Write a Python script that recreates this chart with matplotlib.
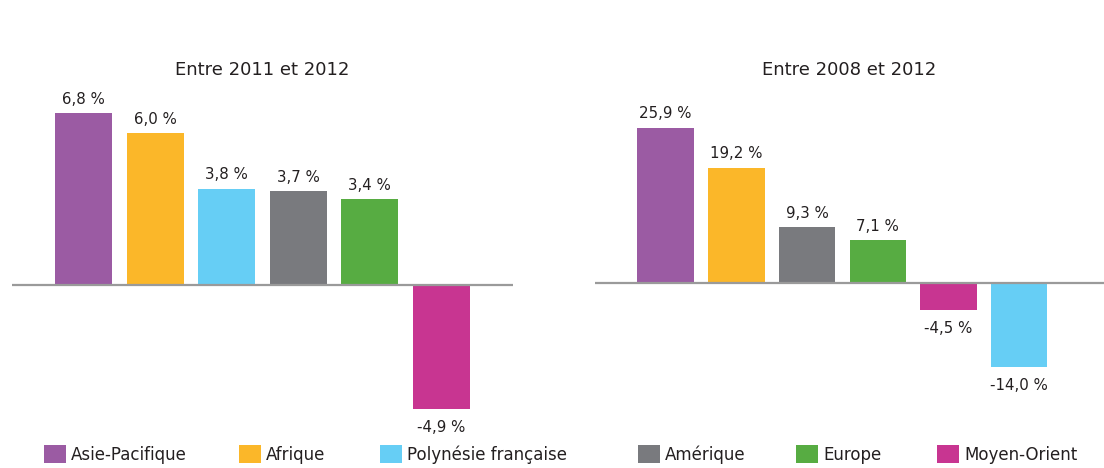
import matplotlib
matplotlib.use("Agg")
import matplotlib.pyplot as plt
from matplotlib.patches import Rectangle

plt.rcParams['font.family'] = ['DejaVu Sans']

# Data
regions_2011 = ["Asie-Pacifique", "Afrique", "Polynésie française", "Amérique", "Europe", "Moyen-Orient"]
values_2011 = [6.8, 6.0, 3.8, 3.7, 3.4, -4.9]
regions_2008 = ["Asie-Pacifique", "Afrique", "Amérique", "Europe", "Moyen-Orient", "Polynésie française"]
values_2008 = [25.9, 19.2, 9.3, 7.1, -4.5, -14.0]
title_left = "Entre 2011 et 2012"
title_right = "Entre 2008 et 2012"
legend_order = ["Asie-Pacifique", "Afrique", "Polynésie française", "Amérique", "Europe", "Moyen-Orient"]

colors = {
    "Asie-Pacifique": "#9B5BA3",
    "Afrique": "#FBB729",
    "Polynésie française": "#66CEF5",
    "Amérique": "#797A7E",
    "Europe": "#57AC42",
    "Moyen-Orient": "#C83591",
}
text_color = "#231F20"

W, H = 1104, 468
fig = plt.figure(figsize=(W / 100, H / 100), dpi=100)

top_px, bot_px = 90, 430

def make_axes(x0, x1, zero_px, scale, xlim):
    ax = fig.add_axes([x0 / W, 1 - bot_px / H, (x1 - x0) / W, (bot_px - top_px) / H])
    ymax = (zero_px - top_px) / scale
    ymin = -(bot_px - zero_px) / scale
    ax.set_ylim(ymin, ymax)
    ax.set_xlim(*xlim)
    ax.axis('off')
    return ax

def fmt(v):
    return ("%.1f" % v).replace(".", ",") + " %"

def draw(ax, cats, vals, title):
    x = list(range(len(cats)))
    ax.bar(x, vals, width=0.8, color=[colors[c] for c in cats], zorder=2)
    ax.axhline(0, color="#9A9A9A", lw=1.6, zorder=3)
    for xi, v in zip(x, vals):
        if v >= 0:
            ax.annotate(fmt(v), (xi, v), xytext=(0, 10), textcoords='offset points',
                        ha='center', va='center', fontsize=10.8, color=text_color)
        else:
            ax.annotate(fmt(v), (xi, v), xytext=(0, -13), textcoords='offset points',
                        ha='center', va='center', fontsize=10.8, color=text_color)
    ax.text(0.5, 1 + 20 / (bot_px - top_px), title, transform=ax.transAxes,
            ha='center', va='center', fontsize=13, color=text_color)

axL = make_axes(12, 513, 285, 25.3, (-1, 6))
axR = make_axes(595, 1104, 283, 6.0, (-1, 6.2))
draw(axL, regions_2011, values_2011, title_left)
draw(axR, regions_2008, values_2008, title_right)

# Manual legend (handle left edges in pixels)
legend_x = [44, 239, 380, 638, 796, 937]
legend_y = 454
hw, hh = 22, 18
for lx, name in zip(legend_x, legend_order):
    fig.add_artist(Rectangle((lx / W, 1 - (legend_y + hh / 2) / H), hw / W, hh / H,
                             transform=fig.transFigure, facecolor=colors[name],
                             edgecolor='none'))
    fig.text((lx + hw + 5) / W, 1 - (legend_y + 1) / H, name, ha='left', va='center',
             fontsize=12, color=text_color)

fig.savefig("out.png", dpi=100)
